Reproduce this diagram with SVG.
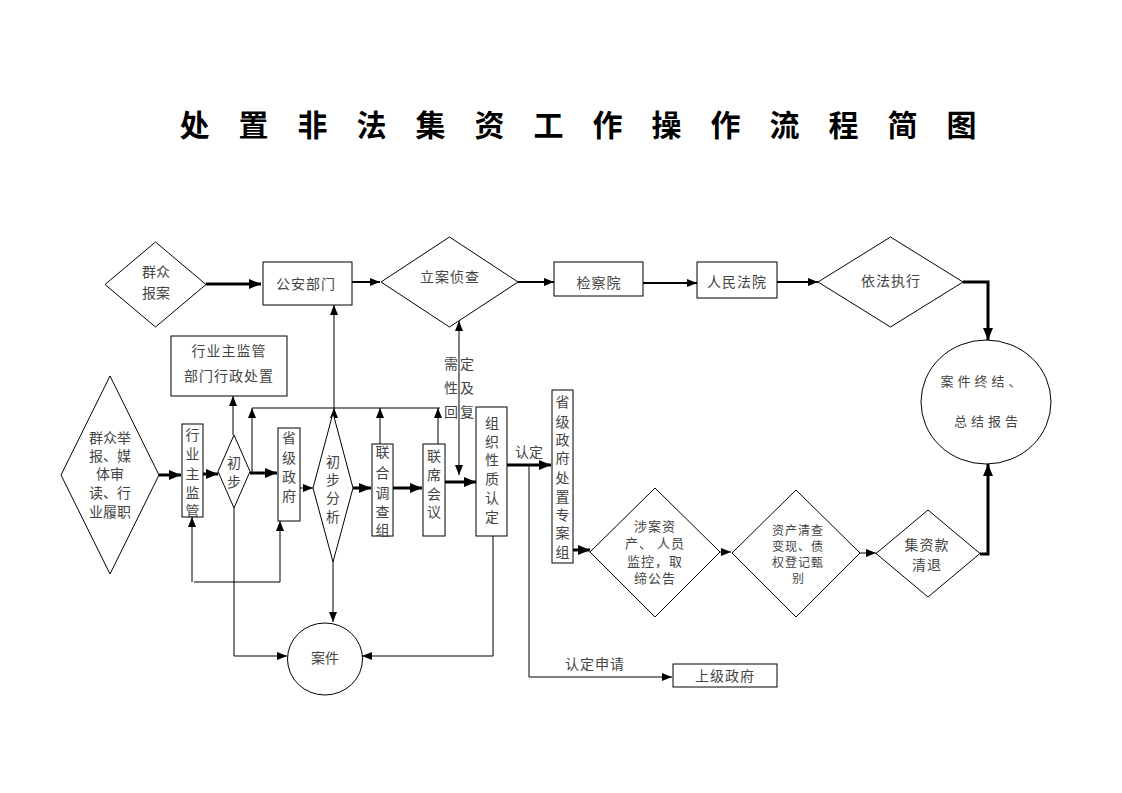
<svg xmlns="http://www.w3.org/2000/svg" width="1122" height="793" viewBox="0 0 1122 793">
<style>
  .shape{fill:#fff;stroke:#000;stroke-width:1}
  .t{font-family:"Noto Sans CJK SC","Noto Sans",sans-serif;font-size:14px;fill:#444;text-anchor:middle}
  .s{font-size:13px}
  .xs{font-size:12px}
  .title{font-family:"Noto Sans CJK SC","Noto Sans",sans-serif;font-size:30px;font-weight:bold;fill:#000;text-anchor:middle}
  .c{fill:none;stroke:#000;stroke-width:1}
  .k{fill:none;stroke:#000;stroke-width:3}
  .m{fill:none;stroke:#000;stroke-width:2}
</style>
<defs>
  <marker id="a" markerUnits="userSpaceOnUse" markerWidth="10" markerHeight="10" viewBox="0 0 10 10" refX="10" refY="5" orient="auto-start-reverse">
    <path d="M0,1 L10,5 L0,9 z" fill="#000"/>
  </marker>
  <marker id="b" markerUnits="userSpaceOnUse" markerWidth="12" markerHeight="12" viewBox="0 0 12 12" refX="12" refY="6" orient="auto">
    <path d="M0,1 L12,6 L0,11 z" fill="#000"/>
  </marker>
</defs>
<rect width="1122" height="793" fill="#fff"/>
<text class="title" x="194.5 253.5 312.5 371.5 430.5 489.5 548.5 607.5 666.5 725.5 784.5 843.5 902.5 961.5" y="136">处置非法集资工作操作流程简图</text>

<g id="connectors">
  <path class="k" d="M206,284 H261" marker-end="url(#b)"/>
  <path class="m" d="M352,282 H380" marker-end="url(#a)"/>
  <path class="m" d="M518,282 H554" marker-end="url(#a)"/>
  <path class="m" d="M643,283 H697" marker-end="url(#a)"/>
  <path class="m" d="M777,282 H818" marker-end="url(#a)"/>
  <path class="k" d="M963,282 H988 V340" marker-end="url(#b)"/>
  <path class="c" d="M334,408 V305" marker-end="url(#a)"/>
  <path class="c" d="M252,408 H440"/>
  <path class="c" d="M252,473 V408" marker-end="url(#a)"/>
  <path class="c" d="M380,444 V408" marker-end="url(#a)"/>
  <path class="c" d="M438,444 V408" marker-end="url(#a)"/>
  <path class="c" d="M334,414 V408" marker-end="url(#a)"/>
  <path class="c" d="M233,435 V396" marker-end="url(#a)"/>
  <path class="k" d="M250,473 H277" marker-end="url(#b)"/>
  <path class="k" d="M159,475 H181" marker-end="url(#b)"/>
  <path class="k" d="M203,474 H218" marker-end="url(#b)"/>
  <path class="c" d="M192,582 V517" marker-end="url(#a)"/>
  <path class="c" d="M194,582 H280 V521" marker-end="url(#a)"/>
  <path class="c" d="M234,508 V656 H287" marker-end="url(#a)"/>
  <path class="c" d="M300,488 H313" marker-end="url(#a)"/>
  <path class="k" d="M353,488 H371" marker-end="url(#b)"/>
  <path class="c" d="M333,562 V622" marker-end="url(#a)"/>
  <path class="k" d="M393,488 H422" marker-end="url(#b)"/>
  <path class="k" d="M445,482 H476" marker-end="url(#b)"/>
  <path class="c" d="M459,321 V475" marker-start="url(#a)" marker-end="url(#a)"/>
  <path class="c" d="M493,536 V656 H362" marker-end="url(#a)"/>
  <path class="k" d="M507,465 H551" marker-end="url(#b)"/>
  <path class="c" d="M529,465 V677 H672" marker-end="url(#a)"/>
  <path class="k" d="M573,550 H590" marker-end="url(#b)"/>
  <path class="c" d="M720,552 H731" marker-end="url(#a)"/>
  <path class="c" d="M860,553 H876" marker-end="url(#a)"/>
  <path class="k" d="M980,554 H988 V464" marker-end="url(#b)"/>
  <text class="t" x="451 467" y="369">需定</text>
  <text class="t" x="451 467" y="393">性及</text>
  <text class="t" x="451 467" y="417">回复</text>
  <text class="t" x="529" y="457">认定</text>
  <text class="t" x="595" y="669" letter-spacing="1">认定申请</text>
</g>

<g id="n-qzba">
  <polygon class="shape" points="155.5,242 206,284.5 155.5,327 105,284.5"/>
  <text class="t" x="156" y="277">群众</text>
  <text class="t" x="156" y="298">报案</text>
</g>
<g id="n-gabm">
  <rect class="shape" x="263" y="262" width="89" height="43"/>
  <text class="t" x="306" y="289" letter-spacing="1">公安部门</text>
</g>
<g id="n-lazc">
  <polygon class="shape" points="449.5,237 518,282 449.5,327 381,282"/>
  <text class="t" x="450" y="282" letter-spacing="1">立案侦查</text>
</g>
<g id="n-jcy">
  <rect class="shape" x="554" y="262" width="89" height="34"/>
  <text class="t" x="599" y="288" letter-spacing="1">检察院</text>
</g>
<g id="n-rmfy">
  <rect class="shape" x="697" y="262" width="80" height="36"/>
  <text class="t" x="737" y="287" letter-spacing="1">人民法院</text>
</g>
<g id="n-yfzx">
  <polygon class="shape" points="890.5,237 963,282 890.5,327 818,282"/>
  <text class="t" x="891" y="286" letter-spacing="1">依法执行</text>
</g>
<g id="n-ajzj">
  <ellipse class="shape" cx="986" cy="402" rx="65" ry="62"/>
  <text class="t s" x="983" y="386" letter-spacing="4">案件终结、</text>
  <text class="t s" x="988" y="426" letter-spacing="4">总结报告</text>
</g>
<g id="n-hyxz">
  <rect class="shape" x="171" y="336" width="116" height="60"/>
  <text class="t" x="229" y="356" letter-spacing="1">行业主监管</text>
  <text class="t" x="229" y="381" letter-spacing="1">部门行政处置</text>
</g>
<g id="n-qzjb">
  <polygon class="shape" points="110,376 159,475 110,574 61,475"/>
  <text class="t" x="110" y="443">群众举</text>
  <text class="t" x="110" y="461">报、媒</text>
  <text class="t" x="110" y="479">体审</text>
  <text class="t" x="110" y="498">读、行</text>
  <text class="t" x="110" y="517">业履职</text>
</g>
<g id="n-hyzjg">
  <rect class="shape" x="182" y="424" width="21" height="93"/>
  <text class="t" x="192.5" y="440">行</text>
  <text class="t" x="192.5" y="459">业</text>
  <text class="t" x="192.5" y="479">主</text>
  <text class="t" x="192.5" y="498">监</text>
  <text class="t" x="192.5" y="516">管</text>
</g>
<g id="n-cb">
  <polygon class="shape" points="234,435 250,471.5 234,508 218,471.5"/>
  <text class="t" x="234" y="468">初</text>
  <text class="t" x="234" y="487">步</text>
</g>
<g id="n-sjzf">
  <rect class="shape" x="278" y="428" width="22" height="93"/>
  <text class="t" x="289" y="443">省</text>
  <text class="t" x="289" y="463">级</text>
  <text class="t" x="289" y="482">政</text>
  <text class="t" x="289" y="501">府</text>
</g>
<g id="n-cbfx">
  <polygon class="shape" points="333,413 353,488 333,562 313,488"/>
  <text class="t" x="333" y="467">初</text>
  <text class="t" x="333" y="485">步</text>
  <text class="t" x="333" y="503">分</text>
  <text class="t" x="333" y="522">析</text>
</g>
<g id="n-lhdcz">
  <rect class="shape" x="372" y="444" width="21" height="92"/>
  <text class="t" x="382.5" y="457">联</text>
  <text class="t" x="382.5" y="478">合</text>
  <text class="t" x="382.5" y="498">调</text>
  <text class="t" x="382.5" y="517">查</text>
  <text class="t" x="382.5" y="535">组</text>
</g>
<g id="n-lxhy">
  <rect class="shape" x="423" y="444" width="22" height="92"/>
  <text class="t" x="434" y="461">联</text>
  <text class="t" x="434" y="480">席</text>
  <text class="t" x="434" y="499">会</text>
  <text class="t" x="434" y="517">议</text>
</g>
<g id="n-zzxzrd">
  <rect class="shape" x="476" y="407" width="31" height="129"/>
  <text class="t" x="492" y="428">组</text>
  <text class="t" x="492" y="447">织</text>
  <text class="t" x="492" y="465">性</text>
  <text class="t" x="492" y="484">质</text>
  <text class="t" x="492" y="503">认</text>
  <text class="t" x="492" y="522">定</text>
</g>
<g id="n-aj">
  <ellipse class="shape" cx="325" cy="659" rx="37.5" ry="36"/>
  <text class="t" x="325" y="663">案件</text>
</g>
<g id="n-sjzawz">
  <rect class="shape" x="552" y="390" width="21" height="173"/>
  <text class="t" x="562.5" y="407">省</text>
  <text class="t" x="562.5" y="427">级</text>
  <text class="t" x="562.5" y="445">政</text>
  <text class="t" x="562.5" y="463">府</text>
  <text class="t" x="562.5" y="483">处</text>
  <text class="t" x="562.5" y="502">置</text>
  <text class="t" x="562.5" y="520">专</text>
  <text class="t" x="562.5" y="538">案</text>
  <text class="t" x="562.5" y="557">组</text>
</g>
<g id="n-sjzc">
  <polygon class="shape" points="655,488 720,552 655,617 590,552"/>
  <text class="t s" x="655" y="531" letter-spacing="1">涉案资</text>
  <text class="t s" x="655" y="548" letter-spacing="1">产、 人员</text>
  <text class="t s" x="655" y="566" letter-spacing="1">监控，取</text>
  <text class="t s" x="655" y="583" letter-spacing="1">缔公告</text>
</g>
<g id="n-zcqc">
  <polygon class="shape" points="796,490 860,553 796,617 732,553"/>
  <text class="t xs" x="798" y="535" letter-spacing="1">资产清查</text>
  <text class="t xs" x="798" y="551" letter-spacing="1">变现、债</text>
  <text class="t xs" x="798" y="567" letter-spacing="1">权登记甄</text>
  <text class="t xs" x="798" y="583">别</text>
</g>
<g id="n-jzkqt">
  <polygon class="shape" points="928,510 980,553.5 928,597 876,553.5"/>
  <text class="t" x="927" y="550" letter-spacing="1">集资款</text>
  <text class="t" x="927" y="570" letter-spacing="1">清退</text>
</g>
<g id="n-sjzf2">
  <rect class="shape" x="673" y="664" width="104" height="23"/>
  <text class="t" x="725" y="681" letter-spacing="1">上级政府</text>
</g>
</svg>
